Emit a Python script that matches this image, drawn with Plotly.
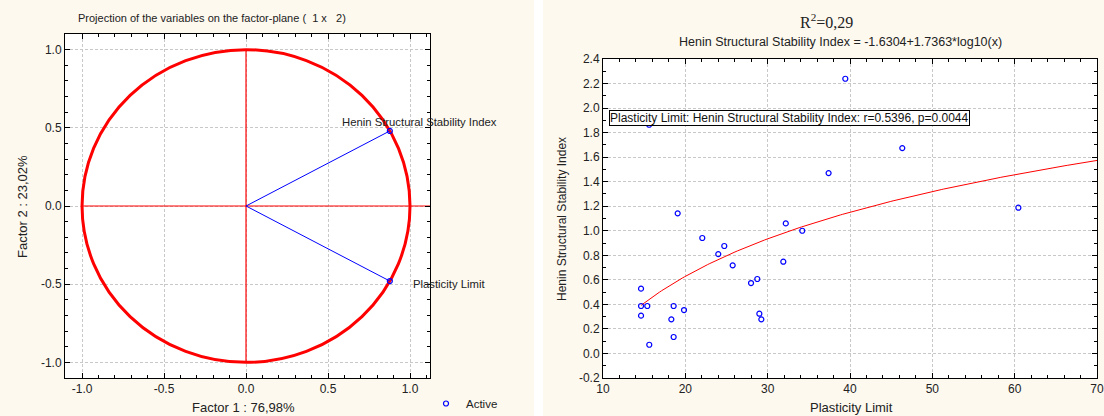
import plotly.graph_objects as go
import numpy as np

# ---------------- data ----------------
# Left: factor loadings of the variables
var_names = ["Henin Structural Stability Index", "Plasticity Limit"]
factor1 = [0.877, 0.877]
factor2 = [0.480, -0.480]
left_ticks = [-1.0, -0.5, 0.0, 0.5, 1.0]
left_tick_text = ["-1.0", "-0.5", "0.0", "0.5", "1.0"]

# Right: scatter Plasticity Limit vs Henin Structural Stability Index
plasticity = [15.6, 19.07, 22.06, 32.2, 34.2, 37.4, 24.73, 24.0, 25.75, 31.9,
              28.74, 27.98, 28.99, 29.23, 14.62, 14.62, 15.38, 14.62, 18.58, 18.3,
              19.84, 18.58, 15.62, 39.43, 46.35, 60.45]
henin = [1.864, 1.142, 0.941, 1.06, 1.00, 1.47, 0.876, 0.81, 0.718, 0.748,
         0.607, 0.574, 0.324, 0.278, 0.528, 0.387, 0.387, 0.308, 0.387, 0.278,
         0.354, 0.134, 0.071, 2.239, 1.674, 1.188]
right_x_ticks = [10, 20, 30, 40, 50, 60, 70]
right_y_ticks = [-0.2, 0.0, 0.2, 0.4, 0.6, 0.8, 1.0, 1.2, 1.4, 1.6, 1.8, 2.0, 2.2, 2.4]
right_y_text = ["-0.2", "0.0", "0.2", "0.4", "0.6", "0.8", "1.0", "1.2", "1.4",
                "1.6", "1.8", "2.0", "2.2", "2.4"]

# fitted model: y = a + b*log10(x)
fit_a = -1.6304
fit_b = 1.7363
fit_x_end = 70

W, H = 1104, 416
BG = "#fdf9ef"
FONT = "Arial, Liberation Sans, sans-serif"
TXT = "#222"

def px_x(p):
    return p / W

def px_y(p):
    return 1 - p / H

fig = go.Figure()

# ---- left: vectors ----
for fx, fy in zip(factor1, factor2):
    fig.add_trace(go.Scatter(x=[0, fx], y=[0, fy], mode="lines",
                             line=dict(color="#0000ff", width=1),
                             showlegend=False, hoverinfo="skip",
                             xaxis="x", yaxis="y"))
fig.add_trace(go.Scatter(x=factor1, y=factor2, mode="markers", name="Active",
                         marker=dict(symbol="circle-open", size=5,
                                     color="#0000ff", line=dict(width=1.2)),
                         xaxis="x", yaxis="y", showlegend=True))

# ---- right: scatter + fit ----
x_min = min(plasticity)
fit_x = np.linspace(x_min, fit_x_end, 200)
fit_y = fit_a + fit_b * np.log10(fit_x)
fig.add_trace(go.Scatter(x=fit_x, y=fit_y, mode="lines",
                         line=dict(color="#ff0000", width=1),
                         showlegend=False, xaxis="x2", yaxis="y2"))
fig.add_trace(go.Scatter(x=plasticity, y=henin, mode="markers",
                         marker=dict(symbol="circle-open", size=5,
                                     color="#0000ff", line=dict(width=1.2)),
                         showlegend=False, xaxis="x2", yaxis="y2"))

axis_common = dict(
    showline=True, linecolor="black", linewidth=1, mirror="ticks",
    ticks="inside", ticklen=5, tickcolor="black", automargin=False,
    showgrid=True, gridcolor="#c8c8c8", griddash="3px,2px", gridwidth=1,
    zeroline=False,
    tickfont=dict(family=FONT, size=12, color=TXT),
)

def minor(dt, t0):
    return dict(ticks="inside", dtick=dt, tick0=t0, ticklen=3,
                tickcolor="black", showgrid=False)

fig.update_layout(
    width=W, height=H,
    margin=dict(l=0, r=0, t=0, b=0, autoexpand=False),
    paper_bgcolor=BG, plot_bgcolor="white",
    font=dict(family=FONT, size=11, color=TXT),
    xaxis=dict(domain=[px_x(65), px_x(430)], range=[-1.104, 1.122],
               tickmode="array", tickvals=left_ticks, ticktext=left_tick_text,
               minor=minor(0.1, 0), anchor="y", **axis_common),
    yaxis=dict(domain=[px_y(378), px_y(34)], range=[-1.1, 1.1],
               tickmode="array", tickvals=left_ticks, ticktext=left_tick_text,
               minor=minor(0.1, 0), anchor="x", **axis_common),
    xaxis2=dict(domain=[px_x(603), px_x(1097)], range=[10, 70],
                tickmode="array", tickvals=right_x_ticks,
                minor=minor(2, 10), anchor="y2", **axis_common),
    yaxis2=dict(domain=[px_y(378), px_y(59)], range=[-0.2, 2.4],
                tickmode="array", tickvals=right_y_ticks, ticktext=right_y_text,
                minor=minor(0.1, 0), anchor="x2", **axis_common),
    legend=dict(x=px_x(426), y=px_y(389), xanchor="left", yanchor="top",
                bgcolor="rgba(0,0,0,0)", font=dict(family=FONT, size=11.5, color=TXT)),
)

shapes = [
    # white stripe between panels
    dict(type="rect", xref="paper", yref="paper", x0=px_x(534), x1=px_x(543),
         y0=0, y1=1, fillcolor="white", line=dict(width=0), layer="below"),
    # unit circle
    dict(type="circle", xref="x", yref="y", x0=-1, x1=1, y0=-1, y1=1,
         line=dict(color="#ff0000", width=3), layer="between"),
    dict(type="line", xref="x", yref="y", x0=-1, x1=1.122, y0=0, y1=0,
         line=dict(color="#ff0000", width=1.2), layer="between"),
    dict(type="line", xref="x", yref="y", x0=0, x1=0, y0=-1, y1=1,
         line=dict(color="#ff0000", width=1.2), layer="between"),
]
fig.update_layout(shapes=shapes)

ann = []
# left title
ann.append(dict(text="Projection of the variables on the factor-plane (  1 x   2)",
                xref="paper", yref="paper", x=px_x(76), y=px_y(18),
                xanchor="left", yanchor="middle", showarrow=False,
                font=dict(family=FONT, size=11, color=TXT)))
ann.append(dict(text="Factor 2 : 23,02%", xref="paper", yref="paper",
                x=px_x(22), y=px_y(206), textangle=-90, showarrow=False,
                xanchor="center", yanchor="middle",
                font=dict(family=FONT, size=13, color=TXT)))
ann.append(dict(text="Factor 1 : 76,98%", xref="paper", yref="paper",
                x=px_x(243), y=px_y(407), showarrow=False,
                xanchor="center", yanchor="middle",
                font=dict(family=FONT, size=13, color=TXT)))
# variable labels
ann.append(dict(text=var_names[0], xref="x", yref="y", x=factor1[0], y=factor2[0],
                xanchor="center", yanchor="middle", xshift=30, yshift=9,
                showarrow=False, font=dict(family=FONT, size=11.3, color=TXT)))
ann.append(dict(text=var_names[1], xref="x", yref="y", x=factor1[1], y=factor2[1],
                xanchor="left", yanchor="middle", xshift=21, yshift=-3,
                showarrow=False, font=dict(family=FONT, size=11.3, color=TXT)))
# right titles
ann.append(dict(text="R<sup>2</sup>=0,29", xref="paper", yref="paper",
                x=px_x(826), y=px_y(21), xanchor="center", yanchor="middle",
                showarrow=False,
                font=dict(family="Times New Roman, Liberation Serif, serif",
                          size=16, color=TXT)))
ann.append(dict(text="Henin Structural Stability Index = -1.6304+1.7363*log10(x)",
                xref="paper", yref="paper", x=px_x(840), y=px_y(42),
                xanchor="center", yanchor="middle", showarrow=False,
                font=dict(family=FONT, size=12.5, color=TXT)))
ann.append(dict(text="Henin Structural Stability Index", xref="paper", yref="paper",
                x=px_x(562), y=px_y(219), textangle=-90, showarrow=False,
                xanchor="center", yanchor="middle",
                font=dict(family=FONT, size=12, color=TXT)))
ann.append(dict(text="Plasticity Limit", xref="paper", yref="paper",
                x=px_x(851), y=px_y(407), showarrow=False,
                xanchor="center", yanchor="middle",
                font=dict(family=FONT, size=13, color=TXT)))
ann.append(dict(text="Plasticity Limit: Henin Structural Stability Index: r=0.5396, p=0.0044",
                xref="paper", yref="paper", x=px_x(609), y=px_y(118),
                xanchor="left", yanchor="middle", showarrow=False,
                bgcolor="white", bordercolor="black", borderwidth=1, borderpad=0,
                font=dict(family=FONT, size=12, color="#111")))
fig.update_layout(annotations=ann)

fig.write_html("out.html")
